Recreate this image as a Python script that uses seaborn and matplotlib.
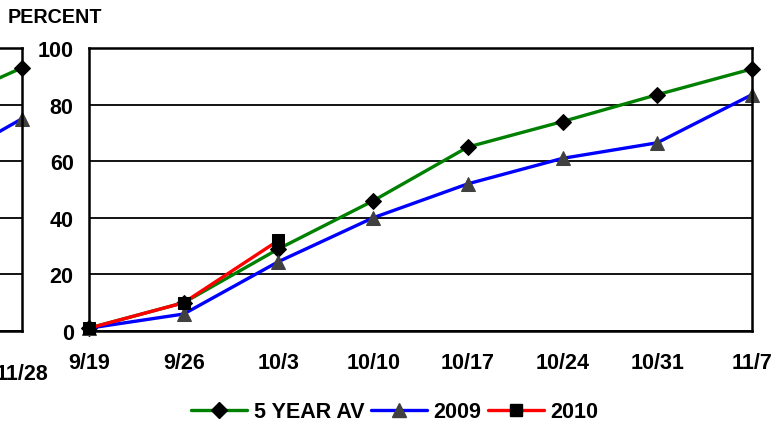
import seaborn as sns
import matplotlib.pyplot as plt
from matplotlib.lines import Line2D

# main chart data
weeks = ["9/19", "9/26", "10/3", "10/10", "10/17", "10/24", "10/31", "11/7"]
five_year_av = [1, 10, 29, 46, 65, 74, 83.5, 92.6]
y2009 = [1, 6, 24.5, 40, 52, 61, 66.5, 83.5]
y2010 = [1, 10, 32]

# tail of the neighbouring chart (cropped at left edge)
prev_weeks = ["11/21", "11/28"]
prev_five_year_av = [78, 93]
prev_2009 = [56, 75]

sns.set_style("white")
plt.rcParams["font.family"] = ["Liberation Sans", "DejaVu Sans"]
plt.rcParams["font.weight"] = "bold"
plt.rcParams["text.color"] = "black"
plt.rcParams["xtick.color"] = "black"
plt.rcParams["ytick.color"] = "black"

FS = 15.5

fig = plt.figure(figsize=(7.83, 4.27), dpi=100)

styles = {
    "5 YEAR AV": dict(color="green", marker="D", markersize=8,
                      markerfacecolor="black", markeredgecolor="black"),
    "2009": dict(color="blue", marker="^", markersize=10.5,
                 markerfacecolor="#404040", markeredgecolor="#404040"),
    "2010": dict(color="red", marker="s", markersize=8.5,
                 markerfacecolor="black", markeredgecolor="black"),
}


def style_axes(ax, labels, xpad):
    ax.set_ylim(0, 100)
    ax.set_yticks([0, 20, 40, 60, 80, 100])
    ax.grid(axis="y", color="black", linewidth=1.3)
    ax.grid(axis="x", visible=False)
    for s in ax.spines.values():
        s.set_color("black")
        s.set_linewidth(1.8)
        s.set_visible(True)
    ax.set_xticks(range(len(labels)))
    ax.set_xticklabels(labels, fontsize=FS, fontweight="bold")
    ax.tick_params(axis="x", length=0, pad=xpad)
    ax.tick_params(axis="y", length=0, pad=11, labelsize=FS)
    ax.set_xlabel("")
    ax.set_ylabel("")


# neighbouring chart, mostly off the left edge
spacing = 663 / 7 / 783
axl = fig.add_axes([22 / 783 - spacing, 0.2225, spacing, 0.6628])
px = list(range(len(prev_weeks)))
sns.lineplot(x=px, y=prev_five_year_av, ax=axl, linewidth=2.4, clip_on=False,
             **styles["5 YEAR AV"])
sns.lineplot(x=px, y=prev_2009, ax=axl, linewidth=2.4, clip_on=False,
             **styles["2009"])
axl.set_xlim(0, len(prev_weeks) - 1)
style_axes(axl, prev_weeks, 23)
axl.set_yticklabels([])

# main chart
ax = fig.add_axes([89 / 783, 0.2225, 663 / 783, 0.6628])
x = list(range(len(weeks)))
sns.lineplot(x=x, y=five_year_av, ax=ax, linewidth=2.4, clip_on=False,
             **styles["5 YEAR AV"])
sns.lineplot(x=x, y=y2009, ax=ax, linewidth=2.4, clip_on=False,
             **styles["2009"])
sns.lineplot(x=x[:len(y2010)], y=y2010, ax=ax, linewidth=2.4, clip_on=False,
             **styles["2010"])
ax.set_xlim(0, len(weeks) - 1)
style_axes(ax, weeks, 15)
for t in ax.get_yticklabels():
    t.set_fontweight("bold")

fig.text(8 / 783, 0.958, "PERCENT", fontsize=14.2, fontweight="bold",
         ha="left", va="center")

handles = [Line2D([], [], linewidth=2.4, **st) for st in styles.values()]
fig.legend(handles, list(styles.keys()), loc="center",
           bbox_to_anchor=(0.504, 1 - 413 / 427), ncol=3, frameon=False,
           handlelength=2.6, handletextpad=0.3, columnspacing=0.3,
           prop={"weight": "bold", "size": FS})

fig.savefig("out.png", dpi=100)
